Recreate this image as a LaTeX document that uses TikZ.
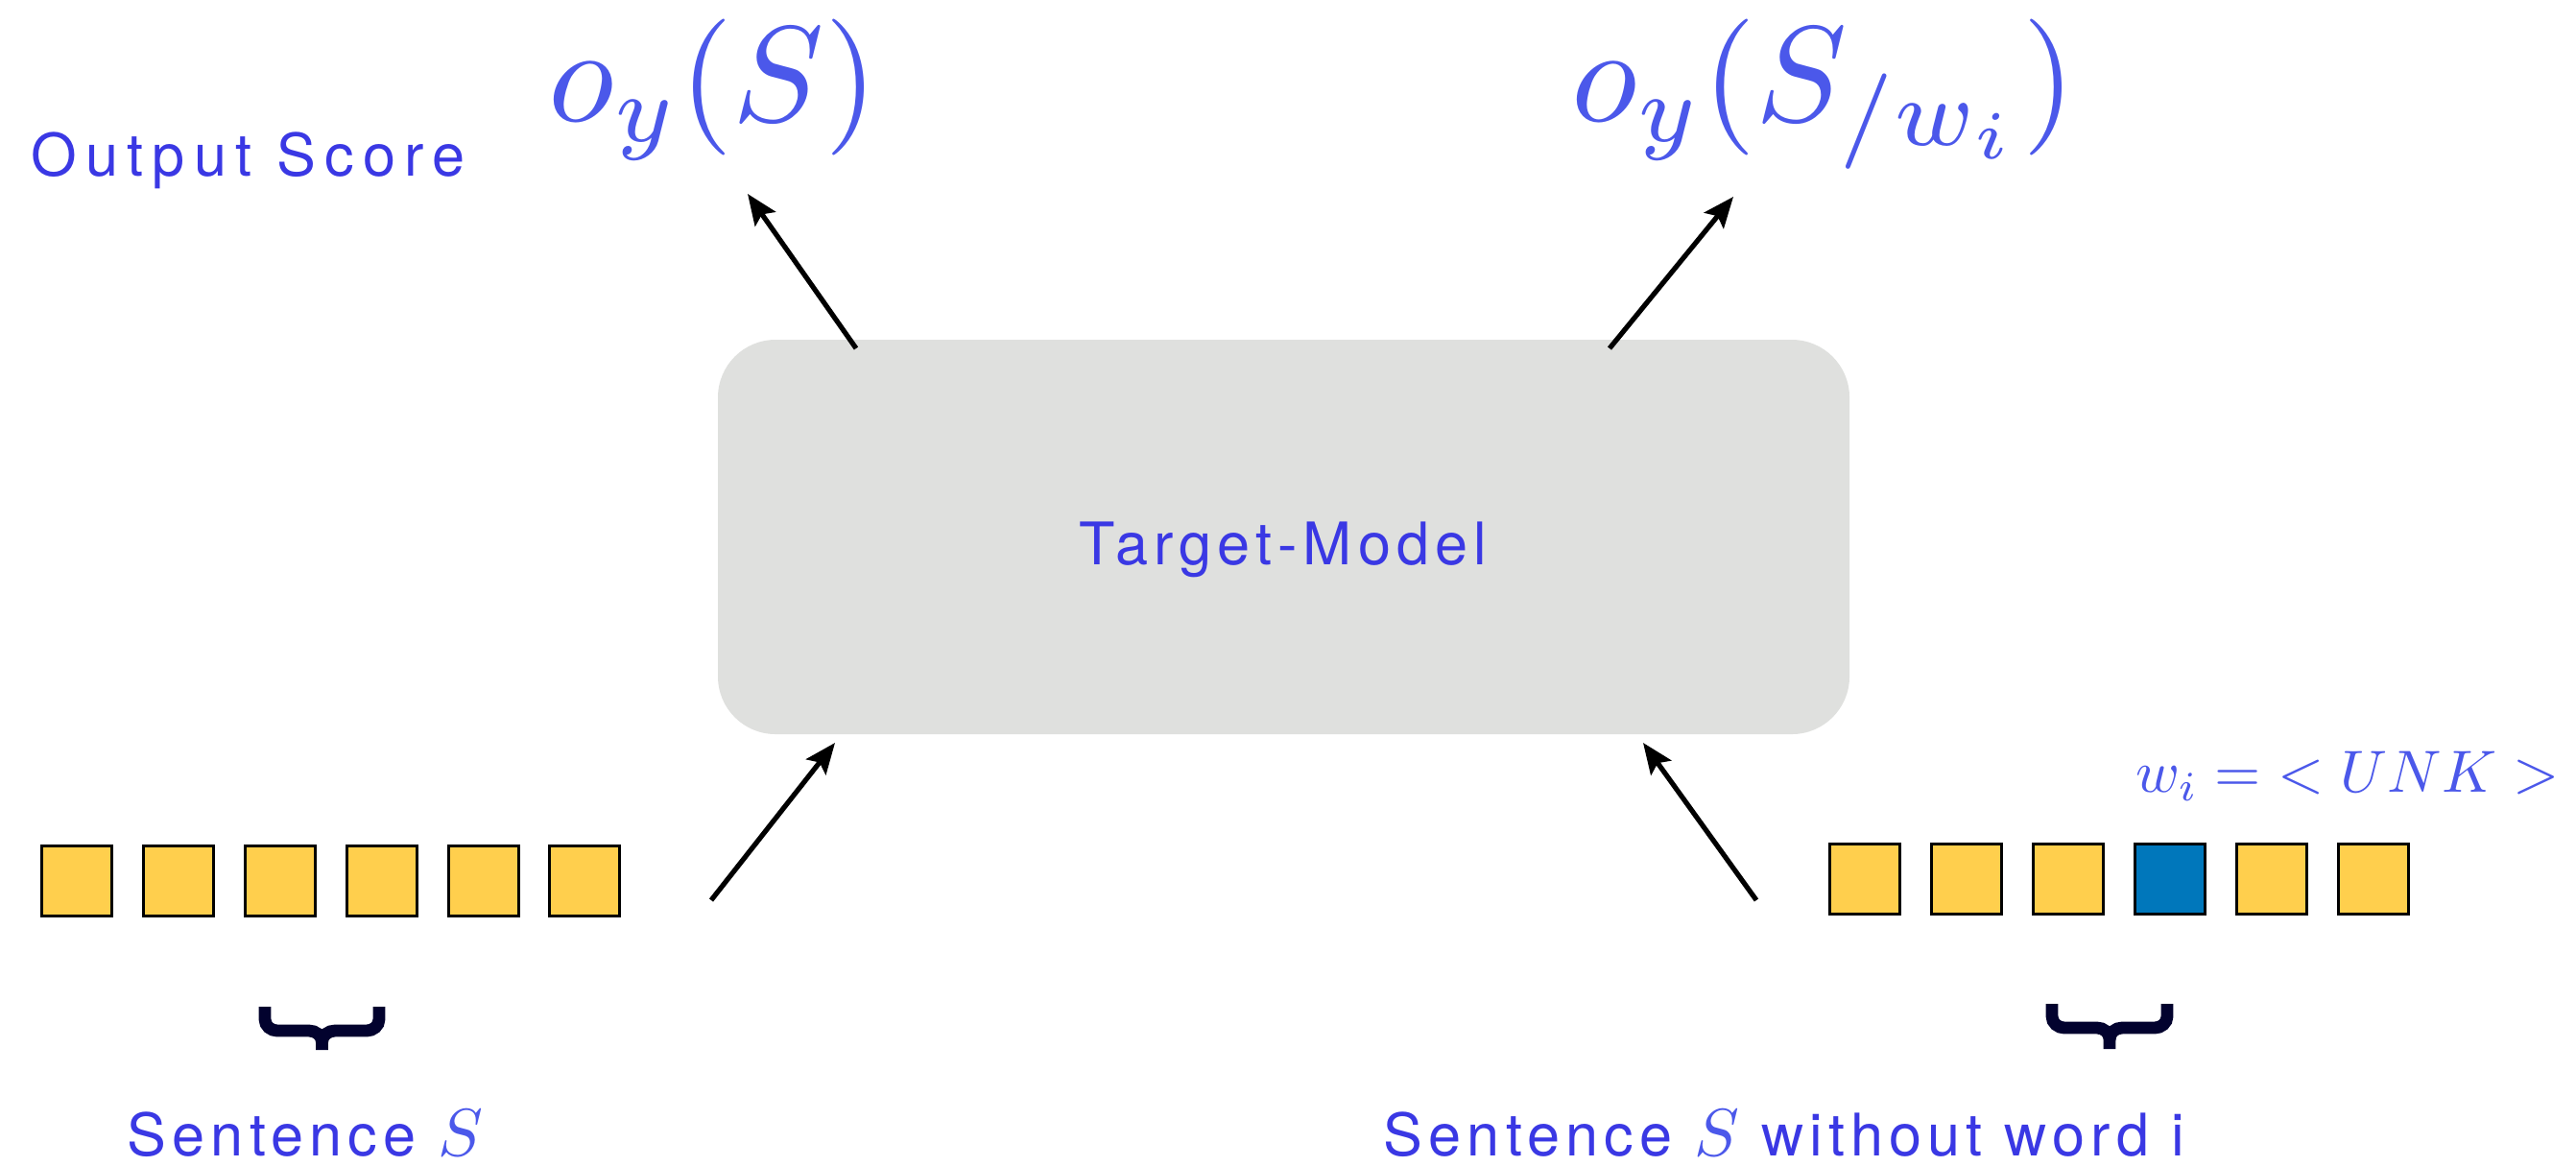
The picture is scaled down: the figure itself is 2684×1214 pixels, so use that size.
\documentclass[tikz,border=0pt]{standalone}
\usepackage{fontspec}
\usetikzlibrary{arrows.meta}
\newfontfamily\labelfont{TeX Gyre Heros}[LetterSpace=10]
\definecolor{textblue}{RGB}{58,56,228}
\definecolor{mathblue}{RGB}{75,88,234}
\definecolor{tokyellow}{HTML}{FFCF4D}
\definecolor{tokblue}{HTML}{0077BB}
\definecolor{boxgray}{HTML}{DFE0DE}
\definecolor{bracenavy}{HTML}{02022E}
\newcommand{\bigS}{\scalebox{1.75}{\fontsize{10pt}{12pt}\selectfont$S$}}
\begin{document}
\begin{tikzpicture}[x=0.25pt,y=-0.25pt,
  lbl/.style={text=textblue, inner sep=0pt, font=\labelfont\fontsize{15.3pt}{18pt}\selectfont},
  mathbig/.style={text=mathblue, inner sep=0pt, font=\fontsize{10pt}{12pt}\selectfont, scale=3.55, anchor=base},
  tok/.style={draw=black, line width=0.75pt, fill=tokyellow, minimum size=18.3pt, inner sep=0pt, anchor=north west},
  unk/.style={tok, fill=tokblue},
  modelbox/.style={fill=boxgray, rounded corners=15pt, minimum width=294.75pt, minimum height=102.75pt, inner sep=0pt},
  arr/.style={line width=1.3pt, -{Stealth[length=8pt,width=6.5pt,inset=1.5pt]}},
  brc/.style={draw=bracenavy, line width=3.2pt}
]
\useasboundingbox (0,0) rectangle (2684,1214);

% model box
\node[modelbox] (model) at (1337.5,559.5) {};
\node[lbl, anchor=base] (tm) at (1337,588) {Target-Model};

% output scores
\node[lbl, anchor=base west] (os) at (32,183) {\addfontfeature{LetterSpace=15}Output Score};
\node[mathbig] (o1) at (743,126) {$o_y(S)$};
\node[mathbig] (o2) at (1900,126) {$o_y(S_{/w_i})$};

% left tokens
\foreach \i/\x in {1/42,2/148,3/254,4/360,5/466,6/571}
  \node[tok] (l\i) at (\x,880) {};
% right tokens
\foreach \i/\x in {1/1905,2/2011,3/2117,5/2329,6/2435}
  \node[tok] (r\i) at (\x,878) {};
\node[unk] (r4) at (2223,878) {};

\node[text=mathblue, inner sep=0pt, anchor=base east, font=\fontsize{10pt}{12pt}\selectfont, scale=1.55] (unkl) at (2668,825) {$w_i = \; < UNK >$};

% braces
\draw[brc] (276,1049) -- (276,1062) to[out=-90,in=180] (289,1074) -- (322,1074) to[out=0,in=90] (335.5,1086) -- (335.5,1094);
\draw[brc] (395,1049) -- (395,1062) to[out=-90,in=0] (382,1074) -- (349,1074) to[out=180,in=90] (335.5,1086);
\draw[brc] (2138,1046) -- (2138,1059) to[out=-90,in=180] (2151,1071) -- (2185,1071) to[out=0,in=90] (2198,1083) -- (2198,1093);
\draw[brc] (2258,1046) -- (2258,1059) to[out=-90,in=0] (2245,1071) -- (2211,1071) to[out=180,in=90] (2198,1083);

% bottom labels
\node[lbl, anchor=base west] (s1) at (132,1204) {Sentence \textcolor{mathblue}{\bigS}};
\node[lbl, anchor=base west] (s2) at (1441,1204) {Sentence \textcolor{mathblue}{\bigS} without word i};

% arrows
\coordinate (a1s) at (892,363); \coordinate (a1e) at (779,202);
\coordinate (a2s) at (1677,363); \coordinate (a2e) at (1806,205);
\coordinate (a3s) at (741,938); \coordinate (a3e) at (870,774);
\coordinate (a4s) at (1830,938); \coordinate (a4e) at (1712,774);
\draw[arr] (a1s) -- (a1e);
\draw[arr] (a2s) -- (a2e);
\draw[arr] (a3s) -- (a3e);
\draw[arr] (a4s) -- (a4e);
\end{tikzpicture}
\end{document}
